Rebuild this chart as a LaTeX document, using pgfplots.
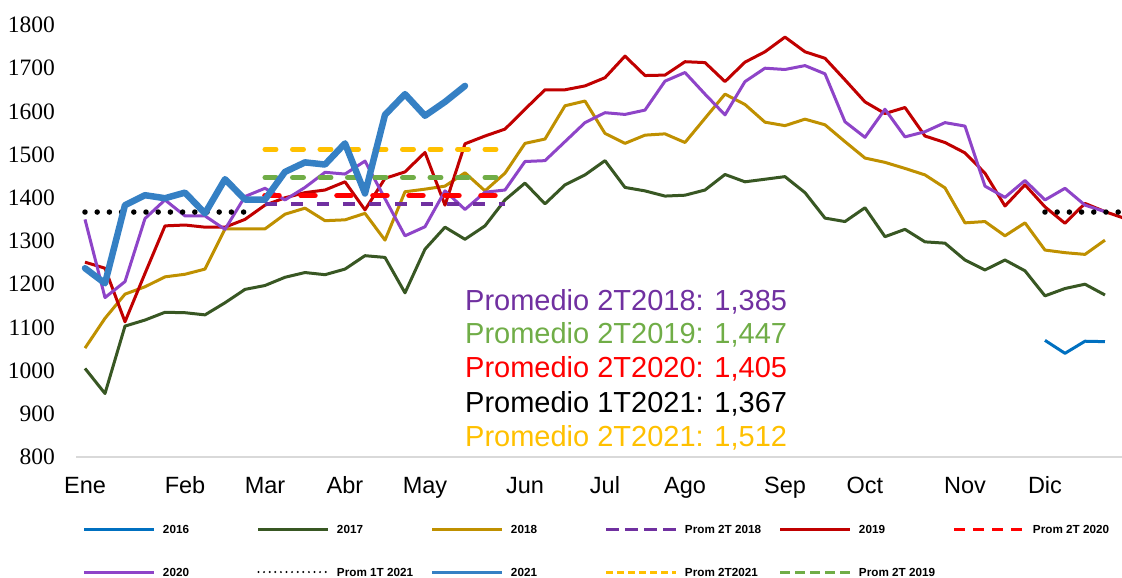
\documentclass[border=0pt]{standalone}
\usepackage{pgfplots}
\pgfplotsset{compat=1.18}
\usepackage{fontspec}
\setmainfont{Liberation Sans}
\newfontfamily\seriffont{Liberation Serif}

\definecolor{c2016}{HTML}{0070C0}
\definecolor{c2017}{HTML}{385723}
\definecolor{c2018}{HTML}{BF9000}
\definecolor{c2019}{HTML}{C00000}
\definecolor{c2020}{HTML}{8E44C8}
\definecolor{c2021}{HTML}{3580C4}
\definecolor{p18}{HTML}{7030A0}
\definecolor{p19}{HTML}{70AD47}
\definecolor{p20}{HTML}{FF0000}
\definecolor{p21}{HTML}{FFC000}
\definecolor{axgray}{HTML}{D9D9D9}

\begin{document}
\begin{tikzpicture}
\path[use as bounding box] (-75bp,-121bp) rectangle (1047bp,457bp);
\begin{axis}[
  at={(0bp,0bp)}, anchor=south west,
  scale only axis, width=1047bp, height=432bp,
  xmin=0.5, xmax=52.85, ymin=800, ymax=1800,
  axis line style={draw=none},
  tick style={draw=none},
  major tick length=0pt,
  xtick={1,6,10,14,18,23,27,31,36,40,45,49},
  xticklabels={Ene,Feb,Mar,Abr,May,Jun,Jul,Ago,Sep,Oct,Nov,Dic},
  ytick={800,900,1000,1100,1200,1300,1400,1500,1600,1700,1800},
  xticklabel style={anchor=base, inner sep=0pt, yshift=-36bp, font=\fontsize{23.5bp}{28bp}\selectfont},
  yticklabel style={anchor=east, inner sep=0pt, xshift=-20bp, font=\seriffont\fontsize{23.5bp}{28bp}\selectfont},
  /pgf/number format/assume math mode=true,
  /pgf/number format/1000 sep={},
  legend columns=6,
  legend image code/.code={\draw[#1] (0bp,0bp) -- (70bp,0bp);},
  legend style={at={(axis description cs:0,0)}, anchor=north west, xshift=8bp, yshift=-67.8bp,
    draw=none, fill=none, inner sep=0pt, outer sep=0pt, column sep=0pt, row sep=34.6bp,
    font=\bfseries\fontsize{11.7bp}{14bp}\selectfont,
    nodes={inner sep=0pt, text height=8.4bp, text depth=0bp}},
]
% 2016
\addplot[c2016, line width=3bp, line join=round, forget plot] coordinates {(49,1070) (50,1040) (51,1068) (52,1067)};
% 2017
\addplot[c2017, line width=3bp, line join=round, forget plot] coordinates {
(1,1005) (2,947) (3,1103) (4,1117) (5,1135) (6,1134) (7,1129) (8,1157) (9,1188) (10,1197)
(11,1216) (12,1227) (13,1222) (14,1235) (15,1266) (16,1262) (17,1180) (18,1281) (19,1332) (20,1304)
(21,1335) (22,1395) (23,1434) (24,1386) (25,1430) (26,1453) (27,1486) (28,1424) (29,1416) (30,1404)
(31,1406) (32,1418) (33,1454) (34,1437) (35,1443) (36,1449) (37,1412) (38,1353) (39,1345) (40,1377)
(41,1310) (42,1327) (43,1298) (44,1295) (45,1256) (46,1233) (47,1256) (48,1231) (49,1173) (50,1190)
(51,1200) (52,1175)};
% 2018
\addplot[c2018, line width=3bp, line join=round, forget plot] coordinates {
(1,1052) (2,1121) (3,1177) (4,1194) (5,1217) (6,1223) (7,1235) (8,1328) (9,1328) (10,1328)
(11,1362) (12,1376) (13,1347) (14,1349) (15,1364) (16,1302) (17,1414) (18,1420) (19,1427) (20,1458)
(21,1416) (22,1457) (23,1526) (24,1536) (25,1613) (26,1624) (27,1549) (28,1526) (29,1545) (30,1548)
(31,1528) (32,1584) (33,1640) (34,1616) (35,1575) (36,1567) (37,1582) (38,1569) (39,1530) (40,1492)
(41,1482) (42,1468) (43,1453) (44,1423) (45,1342) (46,1345) (47,1312) (48,1342) (49,1279) (50,1273)
(51,1269) (52,1302)};
% 2019
\addplot[c2019, line width=3bp, line join=round, forget plot] coordinates {
(1,1251) (2,1237) (3,1113) (4,1225) (5,1335) (6,1337) (7,1332) (8,1332) (9,1350) (10,1383)
(11,1400) (12,1412) (13,1418) (14,1437) (15,1372) (16,1445) (17,1460) (18,1505) (19,1383) (20,1525)
(21,1543) (22,1559) (23,1605) (24,1650) (25,1650) (26,1659) (27,1678) (28,1728) (29,1683) (30,1684)
(31,1715) (32,1713) (33,1669) (34,1714) (35,1738) (36,1772) (37,1738) (38,1723) (39,1673) (40,1622)
(41,1595) (42,1609) (43,1543) (44,1528) (45,1504) (46,1457) (47,1381) (48,1430) (49,1379) (50,1341)
(51,1387) (52,1368) (53,1352)};
% 2020
\addplot[c2020, line width=3bp, line join=round, forget plot] coordinates {
(1,1350) (2,1169) (3,1206) (4,1352) (5,1395) (6,1358) (7,1358) (8,1327) (9,1403) (10,1422)
(11,1395) (12,1424) (13,1459) (14,1455) (15,1485) (16,1398) (17,1312) (18,1333) (19,1416) (20,1373)
(21,1413) (22,1418) (23,1484) (24,1486) (25,1530) (26,1574) (27,1597) (28,1593) (29,1603) (30,1670)
(31,1690) (32,1640) (33,1592) (34,1669) (35,1700) (36,1697) (37,1706) (38,1687) (39,1576) (40,1540)
(41,1605) (42,1541) (43,1553) (44,1574) (45,1566) (46,1427) (47,1401) (48,1440) (49,1395) (50,1422)
(51,1383) (52,1368)};
% averages
\addplot[p18, line width=4bp, dash pattern=on 12bp off 14bp, forget plot] coordinates {(10,1385) (22,1385)};
\addplot[p20, line width=5.5bp, line cap=round, dash pattern=on 14bp off 22bp, forget plot] coordinates {(10,1405) (22,1405)};
\addplot[p19, line width=5bp, line cap=round, dash pattern=on 11bp off 16.5bp, forget plot] coordinates {(10,1447) (22,1447)};
\addplot[p21, line width=5bp, line cap=round, dash pattern=on 11bp off 16.5bp, forget plot] coordinates {(10,1512) (22,1512)};
\addplot[black, line width=5.5bp, line cap=round, dash pattern=on 0bp off 12.2bp, forget plot] coordinates {(1,1367) (9,1367)};
\addplot[black, line width=5.5bp, line cap=round, dash pattern=on 0bp off 12.2bp, forget plot] coordinates {(49,1367) (53,1367)};
% 2021
\addplot[c2021, line width=6.5bp, line join=round, line cap=round, forget plot] coordinates {
(1,1237) (2,1202) (3,1383) (4,1406) (5,1399) (6,1412) (7,1364) (8,1443) (9,1396) (10,1396)
(11,1460) (12,1482) (13,1477) (14,1526) (15,1410) (16,1592) (17,1640) (18,1590) (19,1622) (20,1659)};

% annotations
\node[anchor=base west, inner sep=0pt, text=p18, font=\fontsize{29bp}{34bp}\selectfont] at (axis cs:20,1140) {Promedio 2T2018: 1,385};
\node[anchor=base west, inner sep=0pt, text=p19, font=\fontsize{29bp}{34bp}\selectfont] at (axis cs:20,1062) {Promedio 2T2019: 1,447};
\node[anchor=base west, inner sep=0pt, text=p20, font=\fontsize{29bp}{34bp}\selectfont] at (axis cs:20,983) {Promedio 2T2020: 1,405};
\node[anchor=base west, inner sep=0pt, text=black, font=\fontsize{29bp}{34bp}\selectfont] at (axis cs:20,904) {Promedio 1T2021: 1,367};
\node[anchor=base west, inner sep=0pt, text=p21, font=\fontsize{29bp}{34bp}\selectfont] at (axis cs:20,825) {Promedio 2T2021: 1,512};

% legend
\addlegendimage{c2016, line width=3bp}
\addlegendentry{\hspace*{7bp}\makebox[94bp][l]{2016}}
\addlegendimage{c2017, line width=3bp}
\addlegendentry{\hspace*{7bp}\makebox[94bp][l]{2017}}
\addlegendimage{c2018, line width=3bp}
\addlegendentry{\hspace*{7bp}\makebox[94bp][l]{2018}}
\addlegendimage{p18, line width=3bp, dash pattern=on 13bp off 6bp}
\addlegendentry{\hspace*{7bp}\makebox[94bp][l]{Prom 2T 2018}}
\addlegendimage{c2019, line width=3bp}
\addlegendentry{\hspace*{7bp}\makebox[94bp][l]{2019}}
\addlegendimage{p20, line width=3bp, dash pattern=on 11bp off 8bp}
\addlegendentry{\hspace*{7bp}\makebox[94bp][l]{Prom 2T 2020}}
\addlegendimage{c2020, line width=3bp}
\addlegendentry{\hspace*{7bp}\makebox[94bp][l]{2020}}
\addlegendimage{black, line width=2.2bp, line cap=round, dash pattern=on 0bp off 5.6bp}
\addlegendentry{\hspace*{7bp}\makebox[94bp][l]{Prom 1T 2021}}
\addlegendimage{c2021, line width=3bp}
\addlegendentry{\hspace*{7bp}\makebox[94bp][l]{2021}}
\addlegendimage{p21, line width=3bp, dash pattern=on 7bp off 4bp}
\addlegendentry{\hspace*{7bp}\makebox[94bp][l]{Prom 2T2021}}
\addlegendimage{p19, line width=3bp, dash pattern=on 10bp off 5bp}
\addlegendentry{\hspace*{7bp}\makebox[94bp][l]{Prom 2T 2019}}
\end{axis}
\draw[axgray, line width=1.3bp] (1bp,0bp) -- (1047bp,0bp);
\end{tikzpicture}
\end{document}
